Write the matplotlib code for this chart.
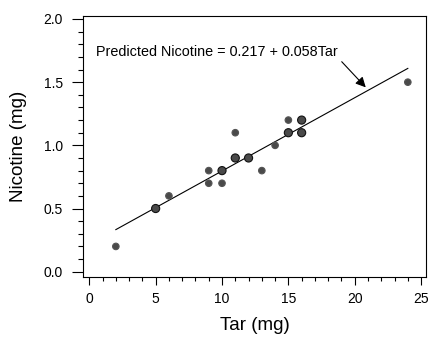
import matplotlib
matplotlib.use('Agg')
import matplotlib.pyplot as plt
from matplotlib.ticker import MultipleLocator
from collections import Counter
import numpy as np

# data
tar = [2, 5, 5, 6, 9, 9, 10, 10, 10, 11, 11, 11, 12, 12, 13, 14,
       15, 15, 15, 16, 16, 16, 16, 24]
nicotine = [0.2, 0.5, 0.5, 0.6, 0.8, 0.7, 0.8, 0.8, 0.7, 0.9, 0.9, 1.1, 0.9, 0.9, 0.8, 1.0,
            1.2, 1.1, 1.1, 1.2, 1.2, 1.1, 1.1, 1.5]

intercept = 0.217
slope = 0.058
label = 'Predicted Nicotine = 0.217 + 0.058Tar'

plt.rcParams['font.family'] = ['Liberation Sans', 'DejaVu Sans']

fig = plt.figure(figsize=(4.30, 3.39), dpi=100)
ax = fig.add_axes([0.1930, 0.1829, 0.7977, 0.770])

# overlapping points drawn a bit bigger, like the original
counts = Counter(zip(tar, nicotine))
xs = [p[0] for p in counts]
ys = [p[1] for p in counts]
sizes = [22 if counts[p] == 1 else 34 for p in counts]
edges = ['#555555' if counts[p] == 1 else '#111111' for p in counts]
ax.scatter(xs, ys, s=sizes, c='#4a4a4a', edgecolors=edges, linewidths=0.8, zorder=3)

# fitted line over the range of tar
xl = np.array([min(tar), max(tar)])
ax.plot(xl, intercept + slope * xl, color='black', lw=0.8, zorder=2)

ax.text(0.53, 1.735, label, fontsize=10.4, va='center', ha='left')
ax.annotate('', xy=(20.83, 1.459), xytext=(19.02, 1.662),
            arrowprops=dict(arrowstyle='-|>', color='black', lw=0.8,
                            mutation_scale=15, shrinkA=0, shrinkB=0))

ax.set_xlim(-0.475, 25.37)
ax.set_ylim(-0.042, 2.024)
ax.xaxis.set_major_locator(MultipleLocator(5))
ax.xaxis.set_minor_locator(MultipleLocator(1))
ax.yaxis.set_major_locator(MultipleLocator(0.5))
ax.yaxis.set_minor_locator(MultipleLocator(0.1))
ax.yaxis.set_major_formatter(plt.FormatStrFormatter('%.1f'))

ax.tick_params(axis='y', which='major', direction='out', length=8, width=0.8, labelsize=10, pad=6.5)
ax.tick_params(axis='y', which='minor', direction='out', length=3.5, width=0.8)
ax.tick_params(axis='x', which='major', direction='out', length=6, width=0.8, labelsize=10, pad=5)
ax.tick_params(axis='x', which='minor', direction='out', length=3, width=0.8)

for s in ax.spines.values():
    s.set_linewidth(0.8)

ax.set_xlabel('Tar (mg)', fontsize=13.5, labelpad=8)
ax.set_ylabel('Nicotine (mg)', fontsize=13.5, labelpad=12)

fig.savefig('out.png', dpi=100)
